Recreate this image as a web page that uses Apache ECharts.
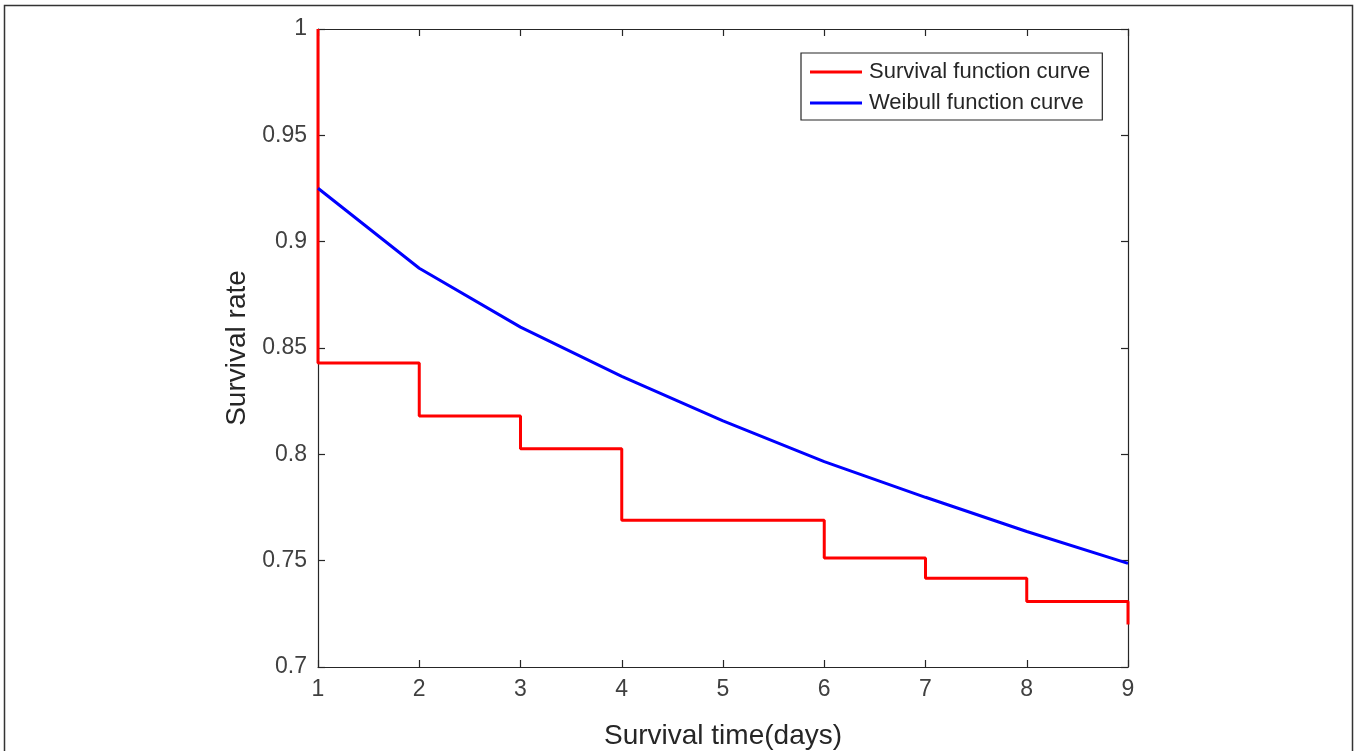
<!DOCTYPE html>
<html>
<head>
<meta charset="utf-8">
<title>Survival function vs Weibull function</title>
<script src="https://cdn.jsdelivr.net/npm/echarts@6/dist/echarts.min.js"></script>
<style>
  html, body { margin: 0; padding: 0; background: #fff; }
  #chart { width: 1359px; height: 751px; }
</style>
</head>
<body>
<div id="chart"></div>
<script>
// Kaplan-Meier style step estimate (step drawn at the end of each interval)
const stepTimes = [1, 1, 2, 3, 4, 6, 7, 8, 9];
const survivalRates = [1, 0.843, 0.818, 0.8026, 0.769, 0.7513, 0.7417, 0.7308, 0.72];

// Fitted Weibull survival values at each day
const weibullDays = [1, 2, 3, 4, 5, 6, 7, 8, 9];
const weibullRates = [0.9251, 0.8875, 0.8598, 0.8367, 0.8157, 0.7966, 0.7798, 0.7637, 0.7487];

const xTicks = [1, 2, 3, 4, 5, 6, 7, 8, 9];
const yTicks = [0.7, 0.75, 0.8, 0.85, 0.9, 0.95, 1];

const seriesNames = ['Survival function curve', 'Weibull function curve'];

const axisColor = '#262626';
const labelColor = '#404040';
const fontFamily = '"Liberation Sans", Arial, sans-serif';

const chart = echarts.init(document.getElementById('chart'), null, { renderer: 'canvas' });

const xCommon = {
  type: 'value',
  min: xTicks[0],
  max: xTicks[xTicks.length - 1],
  interval: 1,
  splitLine: { show: false },
  axisLine: { show: true, lineStyle: { color: axisColor, width: 1.2 } },
  axisTick: { show: true, inside: true, length: 7, lineStyle: { color: axisColor, width: 1.2 } }
};
const yCommon = {
  type: 'value',
  min: yTicks[0],
  max: yTicks[yTicks.length - 1],
  interval: 0.05,
  splitLine: { show: false },
  axisLine: { show: true, lineStyle: { color: axisColor, width: 1.2 } },
  axisTick: { show: true, inside: true, length: 7, lineStyle: { color: axisColor, width: 1.2 } }
};

chart.setOption({
  animation: false,
  backgroundColor: '#ffffff',
  textStyle: { fontFamily: fontFamily },
  grid: { left: 318, top: 29, right: 231, bottom: 84, containLabel: false, outerBoundsMode: 'none' },
  graphic: [{
    type: 'rect',
    shape: { x: 4.5, y: 5.5, width: 1348, height: 800 },
    style: { fill: 'none', stroke: '#333333', lineWidth: 1.5 },
    silent: true
  }],
  legend: {
    orient: 'vertical',
    left: 801,
    top: 53,
    data: seriesNames,
    icon: 'rect',
    itemWidth: 52,
    itemHeight: 3,
    itemGap: 9,
    padding: [8, 12, 6, 9],
    backgroundColor: '#ffffff',
    borderColor: axisColor,
    borderWidth: 1.2,
    textStyle: { color: '#262626', fontSize: 22, lineHeight: 22, fontFamily: fontFamily, padding: [0, 0, 0, 2] }
  },
  xAxis: [
    Object.assign({}, xCommon, {
      position: 'bottom',
      name: 'Survival time(days)',
      nameLocation: 'middle',
      nameGap: 55,
      nameTextStyle: { color: '#262626', fontSize: 28, fontFamily: fontFamily },
      axisLabel: {
        color: labelColor, fontSize: 23, margin: 11, fontFamily: fontFamily,
        formatter: function (v) { return xTicks.indexOf(v) >= 0 ? String(v) : ''; }
      }
    }),
    Object.assign({}, xCommon, { position: 'top', axisLabel: { show: false } })
  ],
  yAxis: [
    Object.assign({}, yCommon, {
      position: 'left',
      name: 'Survival rate',
      nameLocation: 'middle',
      nameGap: 67,
      nameTextStyle: { color: '#262626', fontSize: 28, fontFamily: fontFamily },
      axisLabel: {
        color: labelColor, fontSize: 23, margin: 11, fontFamily: fontFamily,
        formatter: function (v) {
          const r = Math.round(v * 100) / 100;
          return String(r);
        }
      }
    }),
    Object.assign({}, yCommon, { position: 'right', axisLabel: { show: false } })
  ],
  series: [
    {
      name: seriesNames[0],
      type: 'line',
      step: 'end',
      xAxisIndex: 0,
      yAxisIndex: 0,
      showSymbol: false,
      symbol: 'none',
      lineStyle: { color: '#ff0000', width: 3 },
      itemStyle: { color: '#ff0000' },
      data: stepTimes.map(function (t, i) { return [t, survivalRates[i]]; }),
      z: 2
    },
    {
      name: seriesNames[1],
      type: 'line',
      xAxisIndex: 0,
      yAxisIndex: 0,
      showSymbol: false,
      symbol: 'none',
      lineStyle: { color: '#0000ff', width: 3 },
      itemStyle: { color: '#0000ff' },
      data: weibullDays.map(function (t, i) { return [t, weibullRates[i]]; }),
      z: 3
    }
  ]
});
</script>
</body>
</html>
